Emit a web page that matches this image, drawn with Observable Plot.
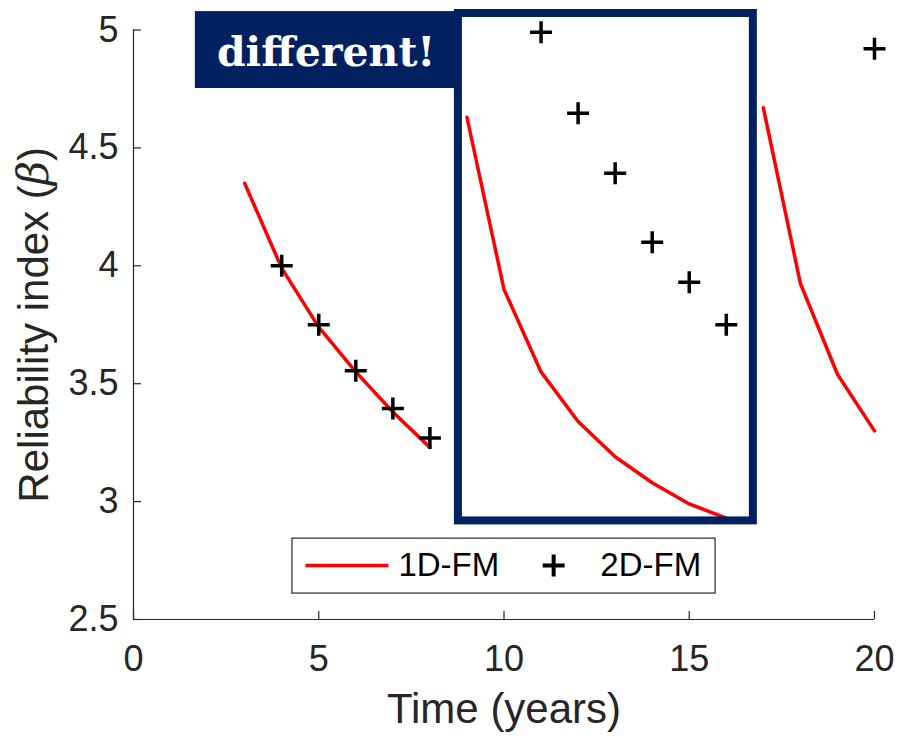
<!DOCTYPE html>
<html><head><meta charset="utf-8">
<script src="https://cdn.jsdelivr.net/npm/d3@7"></script>
<script src="https://cdn.jsdelivr.net/npm/@observablehq/plot@0.6"></script>
<style>body{margin:0;background:#fff;} #chart{width:898px;height:738px;}</style>
</head><body><div id="chart"></div>
<script>
// ---- data ----
const oneDYears = [3,4,5,6,7,8, 9,10,11,12,13,14,15,16, 17,18,19,20];
const oneDBeta  = [4.35,3.99,3.74,3.55,3.38,3.23, 4.63,3.90,3.55,3.34,3.19,3.08,2.99,2.93, 4.67,3.925,3.54,3.30];
const oneDCycle = [1,1,1,1,1,1, 2,2,2,2,2,2,2,2, 3,3,3,3];
const twoDYears = [4,5,6,7,8, 11,12,13,14,15,16, 20];
const twoDBeta  = [4.00,3.75,3.555,3.395,3.27, 4.99,4.647,4.393,4.10,3.93,3.75, 4.92];
const xTicks = [0,5,10,15,20];
const yTicks = [2.5,3,3.5,4,4.5,5];
const seriesNames = ["1D-FM","2D-FM"];
const xLabel = "Time (years)";
const yLabel = "Reliability index (β)";
const calloutText = "different!";

// annotation / legend placement in data units
const highlightBox = {x1: 8.77, x2: 16.73, y1: 2.918, y2: 5.07};
const calloutBox = {x1: 1.67, x2: 8.77, y1: 4.752, y2: 5.078, tx: 5.2, ty: 4.905};
const legendBox = {x1: 4.29, x2: 15.71, y1: 2.610, y2: 2.843, ly: 2.729,
  lineX1: 4.64, lineX2: 6.88, text1X: 7.15, markX: 11.34, text2X: 12.6};

const oneD = oneDYears.map((t, i) => ({t, b: oneDBeta[i], c: oneDCycle[i]}));
const twoD = twoDYears.map((t, i) => ({t, b: twoDBeta[i]}));

const W = 898, H = 738, mL = 133, mR = 24, mT = 29.5, mB = 119;
const frameW = W - mL - mR, frameH = H - mT - mB;
const ink = "#262626", navy = "#002060", red = "#ff0000";

const plusSymbol = {
  draw(ctx, size) {
    const r = Math.sqrt(size / Math.PI);
    ctx.moveTo(-r, 0); ctx.lineTo(r, 0);
    ctx.moveTo(0, -r); ctx.lineTo(0, r);
  }
};

const plot = Plot.plot({
  width: W, height: H,
  marginLeft: mL, marginRight: mR, marginTop: mT, marginBottom: mB,
  x: {domain: [0, 20]},
  y: {domain: [2.5, 5]},
  style: {fontFamily: "'Liberation Sans', Arial, sans-serif", color: ink, background: "white", overflow: "visible"},
  marks: [
    Plot.axisX({ticks: xTicks, tickSize: 0, tickPadding: 26, fontSize: 36, label: null, tickFormat: d => String(d)}),
    Plot.axisY({ticks: yTicks, tickSize: 0, tickPadding: 15, fontSize: 36, label: null, tickFormat: d => String(d)}),
    Plot.tickX(xTicks, {x: d => d, insetTop: frameH - 8, stroke: ink, strokeWidth: 1.2}),
    Plot.tickY(yTicks, {y: d => d, insetRight: frameW - 8, stroke: ink, strokeWidth: 1.2}),
    Plot.ruleX([0], {stroke: ink, strokeWidth: 1.2}),
    Plot.ruleY([2.5], {stroke: ink, strokeWidth: 1.2}),
    Plot.text([xLabel], {frameAnchor: "bottom", dy: 103, fontSize: 42, fill: ink}),
    Plot.text([yLabel], {frameAnchor: "left", textAnchor: "middle", rotate: -90, dx: -99, fontSize: 42, fill: ink}),
    // data
    Plot.line(oneD, {x: "t", y: "b", z: "c", stroke: red, strokeWidth: 3.5}),
    Plot.dot(twoD, {x: "t", y: "b", symbol: plusSymbol, r: 11, stroke: "black", strokeWidth: 3.5, fill: "none"}),
    // annotations
    Plot.rect([highlightBox], {x1: "x1", x2: "x2", y1: "y1", y2: "y2", fill: "none", stroke: navy, strokeWidth: 8}),
    Plot.rect([calloutBox], {x1: "x1", x2: "x2", y1: "y1", y2: "y2", fill: navy}),
    Plot.text([calloutBox], {x: "tx", y: "ty", text: () => calloutText, fill: "white", fontSize: 41, fontWeight: "bold", fontFamily: "'DejaVu Serif', serif"}),
    // legend
    Plot.rect([legendBox], {x1: "x1", x2: "x2", y1: "y1", y2: "y2", fill: "white", stroke: ink, strokeWidth: 1.2}),
    Plot.link([legendBox], {x1: "lineX1", x2: "lineX2", y1: "ly", y2: "ly", stroke: red, strokeWidth: 3.5}),
    Plot.text([legendBox], {x: "text1X", y: "ly", text: () => seriesNames[0], textAnchor: "start", fontSize: 33, fill: "black"}),
    Plot.dot([legendBox], {x: "markX", y: "ly", symbol: plusSymbol, r: 11, stroke: "black", strokeWidth: 4, fill: "none"}),
    Plot.text([legendBox], {x: "text2X", y: "ly", text: () => seriesNames[1], textAnchor: "start", fontSize: 33, fill: "black"})
  ]
});

document.getElementById("chart").appendChild(plot);

// italic beta in the y label
d3.select(plot).selectAll("text").filter(function() { return this.textContent === yLabel; })
  .each(function() {
    const t = d3.select(this);
    t.text(null);
    t.append("tspan").text("Reliability index (");
    t.append("tspan").attr("font-style", "italic").attr("font-family", "'DejaVu Serif', serif").text("β");
    t.append("tspan").text(")");
  });
</script>
</body></html>
